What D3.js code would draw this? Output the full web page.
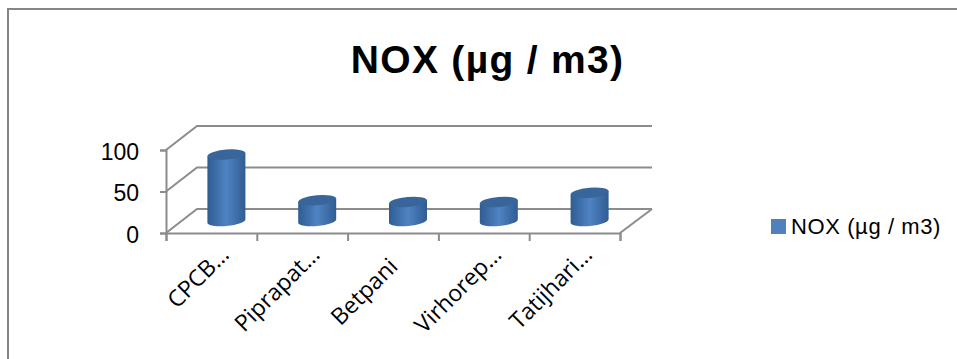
<!DOCTYPE html>
<html>
<head>
<meta charset="utf-8">
<script src="https://cdn.jsdelivr.net/npm/d3@7"></script>
<style>
  html, body { margin: 0; padding: 0; background: #fff; overflow: hidden; }
  svg { display: block; }
</style>
</head>
<body>
<svg id="chart"></svg>
<script>
// Labels are as shown in the picture, cut off by the chart itself
const categories = ["CPCB…", "Piprapat…", "Betpani", "Virhorep…", "Tatijhari…"];
const noxValues = [80, 25, 23, 23, 34];
const yTicks = [0, 50, 100];
const seriesName = "NOX (µg / m3)";

const width = 957, height = 359;
const gray = "#8c8c8c";

// Front plane of the box, and how far the back wall is shifted from it
const plot = { left: 166, right: 620, top: 150, bottom: 233 };
const depth = { x: 31, y: -24 };

const svg = d3.select("#chart").attr("width", width).attr("height", height);

const xScale = d3.scaleBand().domain(categories).range([plot.left, plot.right]);
const yScale = d3.scaleLinear().domain([0, 100]).range([plot.bottom, plot.top]);

// Outer frame, only top and left are in the picture
svg.append("path")
  .attr("d", "M8,359V9H957")
  .attr("fill", "none")
  .attr("stroke", "#868686")
  .attr("stroke-width", 2);

// Title
svg.append("text")
  .attr("x", 487.5)
  .attr("y", 73)
  .attr("text-anchor", "middle")
  .style("font-family", "Liberation Sans")
  .style("font-weight", "bold")
  .style("font-size", "39px")
  .style("letter-spacing", "1.3px")
  .text(seriesName);

// Gridlines on the back wall, with the slanted part on the side wall
const walls = svg.append("g").attr("fill", "none").attr("stroke", gray).attr("stroke-width", 2);
yTicks.forEach(t => {
  walls.append("path")
    .attr("d", "M" + plot.left + "," + yScale(t)
      + "L" + (plot.left + depth.x) + "," + (yScale(t) + depth.y)
      + "H" + (plot.right + depth.x + 1));
});
// Right edge of the floor
walls.append("path")
  .attr("d", "M" + plot.right + "," + plot.bottom + "L" + (plot.right + depth.x + 1) + "," + (plot.bottom + depth.y));

// Axes
const yAxis = svg.append("g")
  .attr("transform", "translate(" + plot.left + ",0)")
  .call(d3.axisLeft(yScale).tickValues(yTicks).tickSize(6).tickPadding(21));

const xAxis = svg.append("g")
  .attr("transform", "translate(0," + plot.bottom + ")")
  .call(d3.axisBottom(d3.scalePoint().domain(d3.range(categories.length + 1)).range([plot.left, plot.right]))
    .tickSize(8).tickFormat(""));

svg.selectAll(".domain, .tick line").attr("stroke", gray).attr("stroke-width", 2);

yAxis.selectAll("text")
  .attr("fill", "#000")
  .attr("dy", "0.4em")
  .style("font-family", "Liberation Sans")
  .style("font-size", "23px");

// Category labels, rotated. The one that is not cut off sits lower and further left
svg.append("g").selectAll("text")
  .data(categories)
  .enter()
  .append("text")
  .attr("transform", d => {
    const cut = d.endsWith("…");
    const cx = xScale(d) + xScale.bandwidth() / 2;
    return "translate(" + (cx + (cut ? 19 : 6)) + "," + (cut ? 256 : 268) + ") rotate(-45)";
  })
  .attr("text-anchor", "end")
  .style("font-family", "Open Sans")
  .style("font-size", "23px")
  .attr("fill", "#000")
  .text(d => d);

// Cylinders
const defs = svg.append("defs");
const bodyGrad = defs.append("linearGradient").attr("id", "bodyGrad");
bodyGrad.append("stop").attr("offset", "0%").attr("stop-color", "#2f5c92");
bodyGrad.append("stop").attr("offset", "50%").attr("stop-color", "#5083c3");
bodyGrad.append("stop").attr("offset", "100%").attr("stop-color", "#2f5c92");

const rx = 19, ry = 5, tilt = -5;
const tiltDy = rx * Math.sin(tilt * Math.PI / 180);
// Cylinders stand in the middle of the floor
const midX = 15, midY = depth.y / 2;

const bars = svg.append("g").selectAll("g")
  .data(categories)
  .enter()
  .append("g");

bars.append("path")
  .attr("fill", "url(#bodyGrad)")
  .attr("d", (d, i) => {
    const cx = xScale(d) + xScale.bandwidth() / 2 + midX;
    const top = yScale(noxValues[i]) + midY;
    const base = yScale(0) + midY;
    return "M" + (cx - rx) + "," + (top - tiltDy)
      + "L" + (cx - rx) + "," + (base - tiltDy)
      + "A" + rx + "," + ry + " " + tilt + " 0 0 " + (cx + rx) + "," + (base + tiltDy)
      + "L" + (cx + rx) + "," + (top + tiltDy) + "Z";
  });

bars.append("ellipse")
  .attr("rx", rx)
  .attr("ry", ry)
  .attr("fill", "#38659a")
  .attr("transform", (d, i) => "translate(" + (xScale(d) + xScale.bandwidth() / 2 + midX) + ","
    + (yScale(noxValues[i]) + midY) + ") rotate(" + tilt + ")");

// Legend
svg.append("rect")
  .attr("x", 771).attr("y", 219).attr("width", 15).attr("height", 15)
  .attr("fill", "#4f81bd");
svg.append("text")
  .attr("x", 791)
  .attr("y", 234)
  .style("font-family", "Liberation Sans")
  .style("font-size", "22px")
  .style("letter-spacing", "0.6px")
  .attr("fill", "#000")
  .text(seriesName);
</script>
</body>
</html>
